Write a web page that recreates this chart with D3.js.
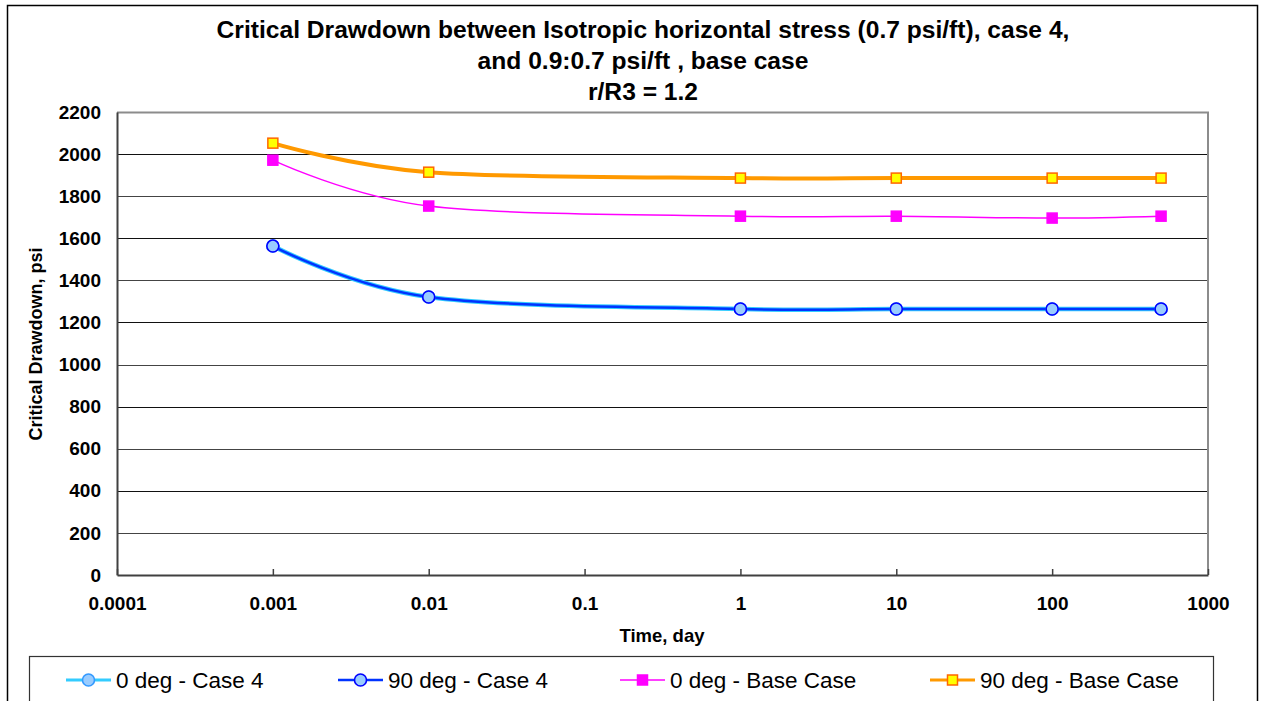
<!DOCTYPE html>
<html>
<head>
<meta charset="utf-8">
<script src="https://cdn.jsdelivr.net/npm/d3@7"></script>
<style>
  html, body { margin: 0; padding: 0; background: #fff; }
  svg { display: block; font-family: "Liberation Sans", Arial, sans-serif; }
</style>
</head>
<body>
<svg id="chart" width="1262" height="701"></svg>
<script>
// ---- data ----
const titleLines = [
  "Critical Drawdown between Isotropic horizontal stress (0.7 psi/ft), case 4,",
  "and 0.9:0.7 psi/ft , base case",
  "r/R3 = 1.2"
];
const times = [0.001, 0.01, 1, 10, 100, 500];
const deg0Case4 = [1563, 1321, 1264, 1264, 1264, 1264];
const deg90Case4 = [1563, 1321, 1264, 1264, 1264, 1264];
const deg0Base = [1971, 1753, 1705, 1705, 1696, 1705];
const deg90Base = [2052, 1914, 1886, 1886, 1886, 1886];
const seriesNames = ["0 deg - Case 4", "90 deg - Case 4", "0 deg - Base Case", "90 deg - Base Case"];
const xTicks = [0.0001, 0.001, 0.01, 0.1, 1, 10, 100, 1000];
const xTickLabels = ["0.0001", "0.001", "0.01", "0.1", "1", "10", "100", "1000"];
const yTicks = [0, 200, 400, 600, 800, 1000, 1200, 1400, 1600, 1800, 2000, 2200];
const xTitle = "Time, day";
const yTitle = "Critical Drawdown, psi";

// ---- styles ----
const styles = [
  { line: "#33CCFF", width: 4.5, marker: "circle", fill: "#99CCFF", stroke: "#3399FF" },
  { line: "#0033FF", width: 2.5, marker: "circle", fill: "#99CCFF", stroke: "#0000FF" },
  { line: "#FF00FF", width: 1.5, marker: "square", fill: "#FF00FF", stroke: "#FF00FF" },
  { line: "#FF9900", width: 4, marker: "square", fill: "#FFFF00", stroke: "#FF6600" }
];
const seriesValues = [deg0Case4, deg90Case4, deg0Base, deg90Base];

const svg = d3.select("#chart");
const W = 1262, H = 701;
const plot = { left: 117, right: 1208, top: 112, bottom: 575 };
const FONT = "Liberation Sans, Arial, sans-serif";

svg.append("rect").attr("width", W).attr("height", H).attr("fill", "#fff");
// outer chart frame
svg.append("rect").attr("x", 7.5).attr("y", 5.5).attr("width", 1250).attr("height", 720)
  .attr("fill", "none").attr("stroke", "#000").attr("stroke-width", 1.5);

const x = d3.scaleLog().domain([0.0001, 1000]).range([plot.left, plot.right]);
const y = d3.scaleLinear().domain([0, 2200]).range([plot.bottom, plot.top]);

// gridlines
svg.append("g").selectAll("line").data(yTicks.filter(d => d > 0)).join("line")
  .attr("x1", plot.left).attr("x2", plot.right)
  .attr("y1", d => Math.round(y(d)) + 0.5).attr("y2", d => Math.round(y(d)) + 0.5)
  .attr("stroke", (d, i) => i % 2 === 0 ? "#444" : "#111").attr("stroke-width", 1.2);

// plot area border top/right
svg.append("path")
  .attr("d", `M${plot.left},${plot.top + 0.5}H${plot.right}V${plot.bottom}`)
  .attr("fill", "none").attr("stroke", "#8c8c8c").attr("stroke-width", 2);

// y axis
const yAxis = d3.axisLeft(y).tickValues(yTicks).tickFormat(d3.format("d")).tickSize(0).tickPadding(16);
const gy = svg.append("g").attr("transform", `translate(${plot.left},0)`).call(yAxis);
gy.select(".domain").attr("stroke", "#404040").attr("stroke-width", 2);
gy.selectAll("text").attr("font-size", 19).attr("font-weight", "bold").attr("fill", "#000")
  .attr("font-family", FONT);

// x axis (ticks point inward)
const xAxis = d3.axisBottom(x).tickValues(xTicks).tickFormat((d, i) => xTickLabels[i])
  .tickSizeInner(-6).tickSizeOuter(0).tickPadding(22);
const gx = svg.append("g").attr("transform", `translate(0,${plot.bottom})`).call(xAxis);
gx.select(".domain").attr("stroke", "#404040").attr("stroke-width", 2);
gx.selectAll(".tick line").attr("stroke", "#404040").attr("stroke-width", 1.5);
gx.selectAll("text").attr("font-size", 19).attr("font-weight", "bold").attr("fill", "#000")
  .attr("font-family", FONT);

// titles
svg.append("g").selectAll("text").data(titleLines).join("text")
  .attr("x", 643).attr("y", (d, i) => 38 + i * 31)
  .attr("text-anchor", "middle").attr("font-size", 24.6).attr("font-weight", "bold")
  .text(d => d);

svg.append("text").attr("x", 662).attr("y", 642).attr("text-anchor", "middle")
  .attr("font-size", 18.5).attr("font-weight", "bold").text(xTitle);
svg.append("text").attr("transform", "translate(42,344) rotate(-90)").attr("text-anchor", "middle")
  .attr("font-size", 18).attr("font-weight", "bold").text(yTitle);

// series
const lineGen = d3.line().x(d => x(d[0])).y(d => y(d[1])).curve(d3.curveCardinal.tension(0));
const gS = svg.append("g");
seriesValues.forEach((vals, si) => {
  const pts = times.map((t, i) => [t, vals[i]]);
  const st = styles[si];
  gS.append("path").datum(pts).attr("d", lineGen)
    .attr("fill", "none").attr("stroke", st.line).attr("stroke-width", st.width)
    .attr("stroke-linejoin", "round");
});
seriesValues.forEach((vals, si) => {
  const pts = times.map((t, i) => [t, vals[i]]);
  const st = styles[si];
  drawMarkers(gS, pts.map(p => [x(p[0]), y(p[1])]), st);
});

function drawMarkers(g, pts, st) {
  if (st.marker === "circle") {
    g.append("g").selectAll("circle").data(pts).join("circle")
      .attr("cx", d => d[0]).attr("cy", d => d[1]).attr("r", 6)
      .attr("fill", st.fill).attr("stroke", st.stroke).attr("stroke-width", 1.6);
  } else {
    g.append("g").selectAll("rect").data(pts).join("rect")
      .attr("x", d => d[0] - 5).attr("y", d => d[1] - 5).attr("width", 10).attr("height", 10)
      .attr("fill", st.fill).attr("stroke", st.stroke).attr("stroke-width", 1.5);
  }
}

// legend
svg.append("rect").attr("x", 29.5).attr("y", 656.5).attr("width", 1184).attr("height", 80)
  .attr("fill", "#fff").attr("stroke", "#333").attr("stroke-width", 1.2);
const legendX = [66, 338, 620, 930];
const lg = svg.append("g");
seriesNames.forEach((name, i) => {
  const st = styles[i];
  const x0 = legendX[i], yc = 680;
  lg.append("line").attr("x1", x0).attr("x2", x0 + 45).attr("y1", yc).attr("y2", yc)
    .attr("stroke", st.line).attr("stroke-width", Math.min(st.width, 3));
  drawMarkers(lg, [[x0 + 22.5, yc]], st);
  lg.append("text").attr("x", x0 + 50).attr("y", yc + 8).attr("font-size", 22.5).text(name);
});
</script>
</body>
</html>
